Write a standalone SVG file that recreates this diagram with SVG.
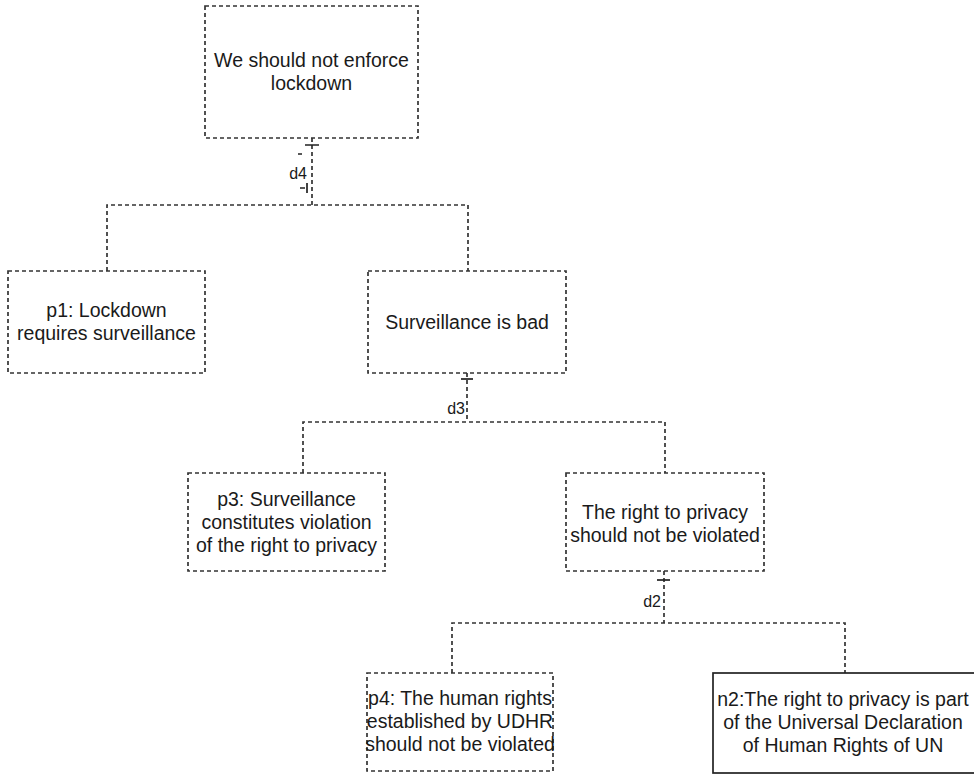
<svg xmlns="http://www.w3.org/2000/svg" width="974" height="776" viewBox="0 0 974 776">
<style>
.box{fill:#fff;stroke:#333;stroke-width:1.7;stroke-dasharray:4 3}
.solid{fill:#fff;stroke:#222;stroke-width:1.7}
.c{fill:none;stroke:#333;stroke-width:1.7;stroke-dasharray:4 3}
.t{stroke:#222;stroke-width:1.7;fill:none}
text{font-family:"Liberation Sans",Arial,sans-serif;font-size:19.5px;fill:#1a1a1a;text-anchor:middle}
.lbl{font-size:16px;text-anchor:end}
</style>
<rect width="974" height="776" fill="#fff"/>
<g id="connectors">
<path class="c" d="M312 138V205M107 271V205H468V271"/>
<path class="t" d="M305 145H319M298 154H302M300 188H305M307 183V193"/>
<text class="lbl" x="307" y="179">d4</text>
<path class="c" d="M467 373V422M303 473V422H665V473"/>
<path class="t" d="M461 379H473"/>
<text class="lbl" x="465" y="414">d3</text>
<path class="c" d="M664 571V623M452 673V623H845V673"/>
<path class="t" d="M657 580H670"/>
<text class="lbl" x="661" y="607">d2</text>
</g>
<g id="claim">
<rect class="box" x="205" y="6" width="213" height="132"/>
<text x="311.5" y="67">We should not enforce</text>
<text x="311.5" y="90">lockdown</text>
</g>
<g id="p1">
<rect class="box" x="8" y="271" width="197" height="102"/>
<text x="106.5" y="317">p1: Lockdown</text>
<text x="106.5" y="340">requires surveillance</text>
</g>
<g id="surveillance">
<rect class="box" x="368" y="271" width="198" height="102"/>
<text x="467" y="329">Surveillance is bad</text>
</g>
<g id="p3">
<rect class="box" x="188" y="473" width="197" height="98"/>
<text x="286.5" y="506">p3: Surveillance</text>
<text x="286.5" y="529">constitutes violation</text>
<text x="286.5" y="552">of the right to privacy</text>
</g>
<g id="privacy">
<rect class="box" x="566" y="473" width="198" height="98"/>
<text x="665" y="519">The right to privacy</text>
<text x="665" y="542">should not be violated</text>
</g>
<g id="p4">
<rect class="box" x="367" y="673" width="186" height="98"/>
<text x="460" y="705">p4: The human rights</text>
<text x="460" y="728">established by UDHR</text>
<text x="460" y="751">should not be violated</text>
</g>
<g id="n2">
<rect class="solid" x="713" y="673" width="275" height="100"/>
<text x="843" y="706">n2:The right to privacy is part</text>
<text x="843" y="729">of the Universal Declaration</text>
<text x="843" y="752">of Human Rights of UN</text>
</g>
</svg>
